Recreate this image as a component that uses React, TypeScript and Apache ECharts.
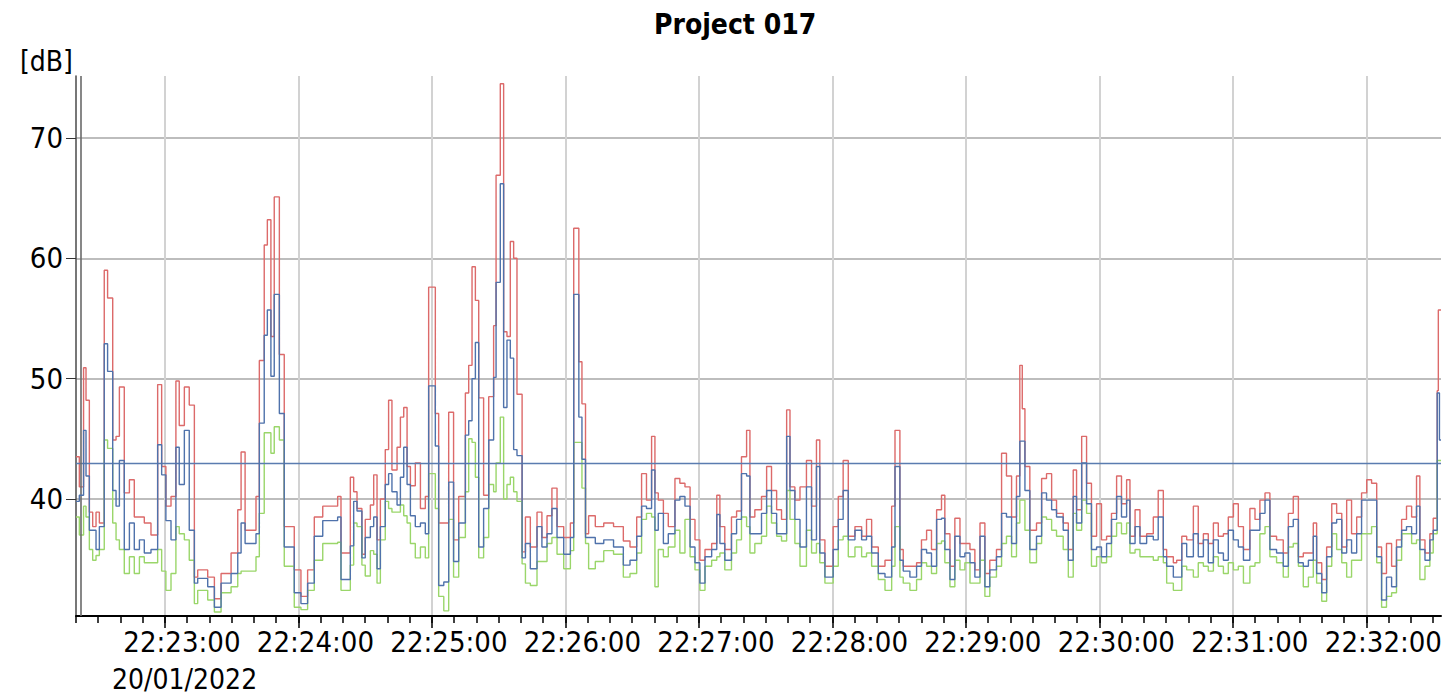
import { useEffect, useRef } from "react";
import * as echarts from "echarts";

const FONT = "'DejaVu Sans Condensed', 'DejaVu Sans', sans-serif";

const TITLE = "Project 017";
const Y_UNIT = "[dB]";
const DATE_LABEL = "20/01/2022";
const START_LABEL = "22:22:20";
const DURATION_S = 613.5;
const X_TICK_LABELS = [
  "22:23:00", "22:24:00", "22:25:00", "22:26:00", "22:27:00",
  "22:28:00", "22:29:00", "22:30:00", "22:31:00", "22:32:00",
];
const Y_TICKS = [40, 50, 60, 70];
const Y_MIN = 30.27;
const Y_MAX = 75.15;
const THRESHOLD = 43;
const CURSOR_OFFSET_S = 2.2;
const MINOR_STEP_S = 10;
// the source software draws its time labels a little to the right of their ticks
const LABEL_SHIFT_S = 7.6;
const DATE_SHIFT_S = 8.8;

// seconds after 22:22:20 at which each block value starts
const T = [
  // 22:22:20 - 22:24:20
  0, 1.5, 3.4, 4.5, 6, 7.5, 9, 10.5, 12.7, 14.2,
  16.5, 18, 19.5, 21.7, 24, 26.2, 28.5, 30.7, 33.7, 36.7,
  38.5, 40.4, 42.7, 44.9, 46.4, 48.7, 50.9, 53.2, 54.7, 59.2,
  62.2, 65.2, 69.7, 72.7, 74.2, 76, 80.9, 82.4, 84.6, 86,
  87.6, 89.1, 91.4, 93.6, 98.1, 101.1, 104.1, 107.1, 110.9, 117.6,
  119.1,
  // 22:24:20 - 22:26:26
  123.3, 124.8, 126.3, 128.5, 130, 132.3, 133.8, 135.3, 136.8, 139,
  140.5, 142, 144.3, 145.8, 147.3, 148.8, 150.3, 152.5, 154.8, 157,
  158.5, 161.5, 163, 165.3, 167.5, 169.7, 172, 175, 176.5, 178,
  179.5, 181, 183.2, 185.5, 187.7, 188.8, 190.7, 192.2, 193.7, 195.2,
  196.7, 198.2, 200.5, 202, 204.2, 207.2, 209.4, 211.7, 213.9, 216.2,
  219.2, 222.2, 223.7, 226, 227.4, 229, 230.4, 233.4, 237.2, 241.6,
  246,
  // 22:26:29 - 22:28:30
  249, 252, 254.2, 256.4, 258.7, 260.2, 261.7, 264, 266.2, 269.2,
  271.4, 273.7, 276, 278.2, 280.4, 282.7, 285.7, 288, 289.4, 291.6,
  294.6, 296.9, 299.1, 301.4, 302.9, 305.1, 308.1, 310.4, 312.6, 314.9,
  317.1, 319.4, 320.9, 323.1, 325.4, 328.3, 330.6, 332.8, 334.3, 336.6,
  340.3, 342.6, 344.8, 347.1, 350.1, 353.1, 355.3, 357.6, 360.6, 363.6,
  366.6, 368.1, 370.3,
  // 22:28:32 - 22:30:33
  371.8, 374.8, 377.8, 380, 382.3, 384.5, 386.8, 389, 390.5, 392.8,
  395, 397.3, 399.5, 401.8, 404, 406.3, 408.5, 410.7, 413.7, 416,
  418.2, 420.5, 422.7, 424.2, 425.3, 426.5, 428.7, 431.7, 434, 436.2,
  438.5, 440.7, 443.7, 446, 448.2, 449.7, 452, 454.2, 456.4, 458.7,
  460.9, 463.2, 465.4, 467.7, 469.9, 472.2, 473.7, 476, 478.2, 481.2,
  484.2, 486.4, 488.7, 490.2, 493.2,
  // 22:30:35 - 22:32:33
  494.7, 497, 499.2, 502.2, 504.4, 506.7, 508.9, 511.2, 513.4, 515.7,
  517.9, 520.2, 522.4, 524.7, 527.6, 529.9, 532.1, 534.4, 536.6, 539.6,
  542.6, 544.9, 547.1, 549.4, 551.6, 553.9, 556.1, 557.6, 559.9, 562.1,
  564.4, 566.6, 568.9, 571.1, 573.3, 575.6, 577.8, 580.1, 582.3, 584.6,
  586.8, 589, 591.3, 593.5, 595.8, 598, 600.3, 602.5, 604, 606.3,
  608.5, 610, 611.8, 612.3, 612.8,
];

const LMAX = [
  43.5, 41.0, 50.9, 48.2, 38.9, 37.7, 38.9, 38.0, 59.0, 56.7,
  44.9, 45.2, 49.3, 40.5, 41.6, 38.5, 38.5, 38.0, 37.0, 49.5,
  42.7, 39.4, 40.2, 49.8, 46.1, 49.3, 47.8, 33.5, 34.1, 33.5,
  31.7, 33.8, 35.5, 39.1, 43.9, 37.4, 40.2, 51.5, 61.1, 63.2,
  53.5, 65.1, 52.0, 37.7, 34.1, 31.9, 34.1, 38.5, 39.4, 40.2,
  35.5,
  41.8, 40.6, 39.2, 35.4, 38.3, 39.5, 42.0, 36.6, 40.0, 44.1,
  48.2, 42.4, 44.3, 46.8, 47.6, 42.7, 41.1, 43.0, 39.2, 40.2,
  57.6, 47.1, 38.0, 38.0, 47.2, 36.6, 40.2, 48.8, 51.1, 59.3,
  56.5, 48.4, 40.3, 48.5, 54.4, 66.9, 74.5, 53.9, 53.5, 61.4,
  60.0, 48.7, 35.6, 38.5, 36.0, 38.9, 36.8, 38.6, 40.9, 37.7,
  36.8, 38.0, 62.5, 51.4, 47.9, 37.1, 38.6, 37.7, 38.0, 37.7,
  36.5,
  36.0, 38.5, 42.1, 39.9, 45.2, 40.5, 39.9, 38.8, 37.7, 41.7,
  41.3, 41.0, 38.3, 36.6, 34.9, 35.8, 36.3, 40.3, 37.7, 35.8,
  38.5, 39.0, 43.5, 45.7, 38.5, 39.1, 40.2, 42.7, 40.7, 39.1,
  38.3, 47.4, 41.0, 39.9, 41.0, 43.2, 39.4, 44.9, 36.6, 34.4,
  37.7, 40.2, 43.2, 36.9, 37.7, 36.9, 38.3, 36.0, 34.4, 34.9,
  39.4, 45.7, 35.8,
  34.4, 34.4, 34.7, 36.6, 37.4, 35.8, 39.1, 40.3, 37.1, 34.4,
  38.4, 36.3, 36.3, 35.8, 34.1, 38.0, 33.8, 34.9, 35.8, 43.8,
  41.9, 38.5, 41.9, 51.1, 47.5, 42.7, 37.4, 38.0, 41.7, 42.1,
  39.9, 38.8, 38.0, 35.8, 42.4, 39.1, 45.2, 41.3, 36.9, 39.6,
  36.6, 36.9, 38.8, 41.9, 39.6, 41.6, 36.9, 39.1, 36.9, 37.1,
  38.5, 40.7, 35.8, 35.2, 34.7,
  34.9, 36.9, 36.6, 39.4, 36.3, 37.1, 36.3, 38.0, 36.9, 37.1,
  38.5, 39.6, 37.7, 35.8, 39.2, 38.3, 39.9, 40.5, 36.9, 36.6,
  35.5, 38.8, 40.2, 35.2, 35.5, 35.5, 38.0, 34.7, 33.3, 36.0,
  39.6, 38.8, 36.0, 39.9, 37.1, 38.5, 40.5, 41.6, 41.3, 36.0,
  33.8, 36.3, 34.4, 36.6, 38.3, 39.4, 38.5, 41.9, 36.6, 35.5,
  37.1, 38.4, 49.0, 55.7, 55.7,
];

const LEQ = [
  39.8, 40.3, 45.7, 41.9, 37.4, 37.4, 35.8, 37.7, 52.9, 50.6,
  40.7, 39.4, 43.2, 35.8, 38.0, 35.8, 36.6, 35.5, 35.8, 44.5,
  42.0, 38.2, 36.6, 44.3, 41.2, 45.7, 37.4, 33.0, 33.4, 32.7,
  31.0, 33.0, 33.8, 35.5, 38.0, 36.3, 37.1, 46.3, 53.6, 55.7,
  50.2, 57.0, 47.1, 36.0, 32.2, 31.3, 33.0, 36.9, 38.2, 38.5,
  33.3,
  36.1, 39.8, 39.0, 35.1, 36.8, 37.7, 38.5, 34.2, 37.7, 41.2,
  42.1, 40.6, 39.5, 41.8, 44.3, 41.2, 38.6, 37.7, 38.0, 37.1,
  49.4, 44.4, 32.8, 33.1, 41.4, 34.8, 38.0, 45.3, 46.5, 50.0,
  53.0, 36.0, 39.2, 44.9, 50.1, 58.0, 66.2, 47.6, 53.2, 51.7,
  44.1, 43.6, 35.1, 36.3, 34.2, 37.7, 36.0, 37.1, 39.2, 36.8,
  35.4, 36.8, 57.0, 46.8, 43.3, 36.8, 36.8, 36.3, 36.6, 36.0,
  34.5,
  34.9, 36.9, 39.4, 39.2, 42.4, 37.4, 38.8, 36.3, 37.1, 39.9,
  40.2, 39.4, 36.0, 34.7, 33.0, 35.2, 35.8, 38.7, 36.3, 34.9,
  37.1, 38.3, 42.1, 41.9, 37.1, 37.1, 38.8, 40.7, 38.8, 37.1,
  37.1, 45.2, 40.7, 38.3, 36.0, 41.0, 36.6, 42.7, 35.5, 33.5,
  35.8, 38.3, 40.7, 36.6, 37.4, 36.6, 36.9, 35.5, 33.8, 33.5,
  36.0, 42.7, 34.9,
  34.0, 33.5, 34.4, 35.8, 35.5, 34.4, 38.3, 38.4, 35.8, 33.3,
  36.9, 35.2, 35.5, 34.7, 33.5, 36.9, 32.7, 34.1, 35.2, 38.8,
  38.5, 36.3, 40.2, 44.8, 44.8, 40.7, 35.8, 36.9, 40.5, 39.9,
  39.1, 38.5, 37.4, 34.9, 40.2, 38.0, 43.0, 39.6, 35.8, 36.0,
  35.2, 36.3, 38.3, 40.2, 38.5, 39.9, 36.3, 37.7, 36.3, 36.9,
  36.6, 38.5, 35.2, 34.4, 33.5,
  33.5, 36.3, 35.2, 37.1, 35.2, 36.6, 34.7, 36.6, 35.5, 34.9,
  37.4, 36.6, 36.0, 34.9, 37.4, 37.4, 38.8, 39.9, 35.8, 35.5,
  34.4, 37.7, 38.3, 34.7, 34.4, 34.9, 36.9, 33.8, 32.2, 35.2,
  38.0, 38.3, 35.5, 36.6, 35.5, 37.1, 39.9, 39.9, 39.9, 35.2,
  31.6, 33.5, 32.7, 36.0, 37.4, 37.7, 37.1, 39.4, 35.8, 34.9,
  36.6, 37.4, 48.8, 48.8, 44.9,
];

const LMIN = [
  38.5, 37.0, 39.4, 38.5, 35.8, 34.9, 35.3, 35.8, 44.9, 44.2,
  38.0, 36.6, 35.8, 33.8, 35.2, 33.8, 35.2, 34.7, 34.7, 35.8,
  34.0, 32.4, 33.8, 37.7, 37.1, 36.6, 34.9, 31.3, 32.4, 31.6,
  30.6, 32.2, 32.7, 33.8, 34.0, 34.0, 35.2, 38.8, 45.5, 45.5,
  43.8, 46.0, 44.9, 34.4, 31.0, 30.8, 32.4, 34.9, 36.3, 36.4,
  32.4,
  34.5, 38.0, 37.7, 34.5, 33.6, 35.7, 35.4, 33.0, 36.6, 39.8,
  39.2, 38.9, 38.9, 39.5, 38.6, 38.0, 36.3, 35.1, 36.0, 35.1,
  42.1, 39.2, 31.9, 30.7, 38.3, 33.5, 36.8, 40.6, 45.0, 44.7,
  41.8, 35.1, 36.8, 41.2, 40.6, 43.0, 46.8, 40.0, 41.2, 41.8,
  40.6, 39.8, 34.6, 33.0, 32.8, 34.8, 34.8, 36.3, 36.8, 35.4,
  34.2, 35.7, 44.7, 44.7, 40.9, 36.3, 34.2, 34.8, 35.7, 35.4,
  33.5,
  33.8, 35.5, 38.3, 38.8, 38.5, 32.7, 35.8, 35.2, 36.0, 37.4,
  35.5, 38.3, 35.2, 34.1, 32.4, 34.4, 34.9, 35.2, 35.5, 34.1,
  35.5, 36.6, 38.5, 37.7, 35.5, 36.3, 36.9, 39.4, 38.0, 36.9,
  36.5, 40.7, 38.3, 36.3, 34.4, 37.4, 35.5, 36.3, 34.7, 33.0,
  34.4, 36.6, 36.9, 35.2, 36.0, 35.2, 35.5, 34.4, 33.3, 32.4,
  34.4, 37.7, 33.5,
  33.0, 32.4, 33.3, 34.7, 34.4, 33.8, 36.3, 36.5, 34.7, 32.7,
  34.9, 34.1, 34.7, 33.0, 33.0, 34.9, 31.9, 33.5, 34.4, 36.3,
  36.9, 35.2, 38.0, 39.9, 39.9, 37.4, 34.7, 36.3, 38.5, 38.3,
  37.4, 36.9, 35.8, 33.5, 38.8, 37.4, 39.9, 38.8, 34.4, 35.2,
  34.7, 35.2, 36.9, 38.0, 37.1, 38.0, 35.5, 35.8, 35.2, 35.2,
  34.9, 35.2, 34.7, 33.0, 32.4,
  32.4, 34.4, 34.1, 33.5, 34.7, 34.4, 34.0, 35.2, 34.4, 33.8,
  34.7, 34.1, 34.4, 33.0, 34.4, 34.7, 37.1, 37.7, 35.2, 34.7,
  33.5, 36.0, 36.3, 34.4, 32.7, 33.5, 34.9, 33.0, 31.5, 34.4,
  37.1, 35.8, 34.7, 33.5, 34.9, 34.9, 37.1, 37.1, 37.7, 34.7,
  31.0, 31.9, 32.2, 34.9, 37.1, 37.1, 36.3, 36.6, 33.3, 34.4,
  35.5, 37.1, 43.2, 43.2, 43.2,
];

const RED = "#dc6a6a";
const BLUE = "#4f72ab";
const GREEN = "#9ad66a";

function toSec(hms: string): number {
  const [h, m, s] = hms.split(":").map(Number);
  return h * 3600 + m * 60 + s;
}
function toHms(sec: number): string {
  const s = Math.round(sec);
  const p = (n: number) => String(n).padStart(2, "0");
  return `${p(Math.floor(s / 3600))}:${p(Math.floor((s % 3600) / 60))}:${p(s % 60)}`;
}

export default function App() {
  const ref = useRef<HTMLDivElement>(null);

  useEffect(() => {
    if (!ref.current) return;
    const chart = echarts.init(ref.current, undefined, { renderer: "svg" });

    const start = toSec(START_LABEL);
    const end = start + DURATION_S;
    const xTicks = X_TICK_LABELS.map(toSec);
    const minor: number[] = [];
    for (let v = start; v <= end; v += MINOR_STEP_S) minor.push(v);

    const mk = (vals: number[]) => {
      const d: number[][] = T.map((t, i) => [start + t, vals[i]]);
      d.push([end, vals[vals.length - 1]]);
      return d;
    };

    const lineSeries = (name: string, vals: number[], color: string, z: number) => ({
      type: "line",
      name,
      step: "end",
      xAxisIndex: 0,
      data: mk(vals),
      symbol: "none",
      showSymbol: false,
      lineStyle: { color, width: 1.4 },
      itemStyle: { color },
      z,
      silent: true,
    });

    const blue: any = lineSeries("LAeq", LEQ, BLUE, 5);
    blue.markLine = {
      symbol: ["none", "none"],
      silent: true,
      animation: false,
      label: { show: false },
      data: [
        { yAxis: THRESHOLD, lineStyle: { color: "#5a7cb0", width: 1.3, type: "solid" } },
        { xAxis: start + CURSOR_OFFSET_S, lineStyle: { color: "#6a6a6a", width: 1.6, type: "solid" } },
      ],
    };

    const labelAxis = (
      shift: number,
      values: number[],
      fmt: (v: number) => string,
      margin: number,
      lineHeight: number,
      fontSize: number
    ) => ({
      type: "value",
      min: start - shift,
      max: end - shift,
      position: "bottom",
      axisLine: { show: false, onZero: false },
      axisTick: { show: false },
      splitLine: { show: false },
      axisLabel: {
        customValues: values,
        showMinLabel: true,
        showMaxLabel: true,
        formatter: fmt,
        fontFamily: FONT,
        fontSize,
        lineHeight,
        color: "#000",
        margin,
      },
    });

    chart.setOption({
      animation: false,
      backgroundColor: "#ffffff",
      title: {
        text: TITLE,
        left: 649,
        top: 5,
        textStyle: { fontFamily: FONT, fontSize: 28, fontWeight: "bold", color: "#000" },
      },
      graphic: [
        {
          type: "text",
          left: 20,
          top: 47,
          style: { text: Y_UNIT, fontFamily: FONT, fontSize: 28, fill: "#000" },
        },
      ],
      grid: { left: 76, right: 4, top: 76, bottom: 79, containLabel: false, outerBoundsMode: "none" },
      xAxis: [
        {
          type: "value",
          min: start,
          max: end,
          position: "bottom",
          axisLine: { show: true, onZero: false, lineStyle: { color: "#000", width: 2 } },
          axisTick: { show: true, customValues: xTicks, length: 12, lineStyle: { color: "#000", width: 1.5 } },
          axisLabel: { show: false, customValues: xTicks },
          splitLine: { show: true, lineStyle: { color: "#d2d2d2", width: 2 } },
        },
        {
          type: "value",
          min: start,
          max: end,
          position: "bottom",
          axisLine: { show: false, onZero: false },
          axisTick: { show: true, customValues: minor, length: 7, lineStyle: { color: "#000", width: 1.5 } },
          axisLabel: { show: false, customValues: minor },
          splitLine: { show: false },
        },
        labelAxis(LABEL_SHIFT_S, xTicks, (v: number) => toHms(v), 11, 30, 29),
        labelAxis(DATE_SHIFT_S, [xTicks[0]], () => DATE_LABEL, 51, 24, 28),
      ],
      yAxis: {
        type: "value",
        min: Y_MIN,
        max: Y_MAX,
        axisLine: { show: true, lineStyle: { color: "#555", width: 1.6 } },
        axisTick: { show: true, customValues: Y_TICKS, length: 10, lineStyle: { color: "#333", width: 1 } },
        axisLabel: {
          customValues: Y_TICKS,
          fontFamily: FONT,
          fontSize: 29,
          color: "#000",
          margin: 13,
        },
        splitLine: { show: true, lineStyle: { color: "#bdbdbd", width: 2 } },
      },
      series: [
        lineSeries("LAFmax", LMAX, RED, 3),
        lineSeries("LAFmin", LMIN, GREEN, 4),
        blue,
      ],
    });

    return () => chart.dispose();
  }, []);

  return (
    <div
      ref={ref}
      style={{ position: "fixed", left: 0, top: 0, width: 1445, height: 695, background: "#fff" }}
    />
  );
}
